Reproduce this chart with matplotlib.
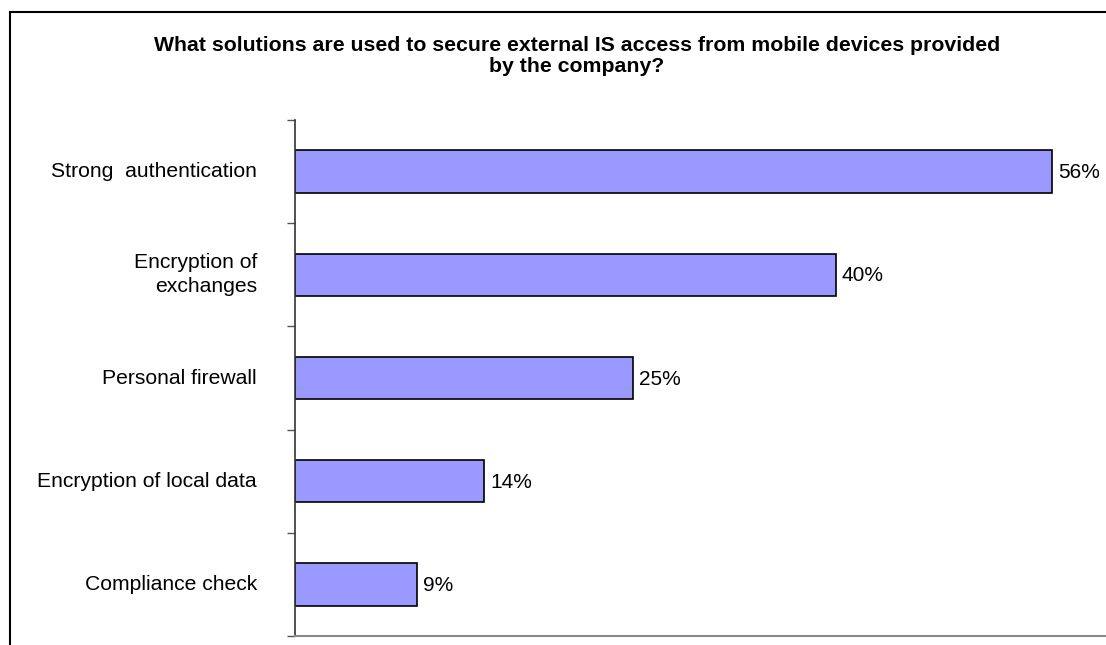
import matplotlib
matplotlib.use("Agg")
import matplotlib.pyplot as plt
from matplotlib.lines import Line2D
import numpy as np

plt.rcParams['font.family'] = ['Liberation Sans', 'DejaVu Sans']

categories = ["Strong  authentication", "Encryption of\nexchanges", "Personal firewall",
              "Encryption of local data", "Compliance check"]
values = [56, 40, 25, 14, 9]
value_labels = ["56%", "40%", "25%", "14%", "9%"]
title = "What solutions are used to secure external IS access from mobile devices provided\nby the company?"

W, H = 1106, 645
fig = plt.figure(figsize=(W / 100, H / 100), dpi=100)
ax = fig.add_axes([295 / W, 1 - 636 / H, (W - 295) / W, (636 - 120) / H])

n = len(categories)
y = np.arange(n)
ax.barh(y, values, height=0.41, color="#9999FF", edgecolor="black", linewidth=1.2)
ax.set_ylim(n - 0.5, -0.5)
ax.set_xlim(0, 60.0)

for yi, v, lab in zip(y, values, value_labels):
    ax.text(v + 0.45, yi + 0.01, lab, va="center", ha="left", fontsize=15)

# category labels, right-aligned to the left of the axis
for yi, cat in zip(y, categories):
    ax.text(-0.047, yi, cat, transform=ax.get_yaxis_transform(), ha="right", va="center",
            multialignment="right", fontsize=15.2, linespacing=1.32)

ax.set_yticks(np.arange(-0.5, n + 0.5, 1.0))
ax.set_yticklabels([])
ax.tick_params(axis="y", direction="out", length=6, width=1, color="#555555")
ax.set_xticks([])
for s in ["top", "right"]:
    ax.spines[s].set_visible(False)
ax.spines["left"].set_color("#333333")
ax.spines["left"].set_linewidth(1.2)
ax.spines["bottom"].set_color("#888888")
ax.spines["bottom"].set_linewidth(1.5)

fig.text(577 / W, 1 - 56 / H, title, ha="center", va="center", fontsize=15.3,
         fontweight="bold", linespacing=1.12)

# outer frame (left and top edges)
fig.add_artist(Line2D([9.5 / W, 9.5 / W], [0, 1 - 12 / H], transform=fig.transFigure,
                      color="black", linewidth=1.5))
fig.add_artist(Line2D([9.5 / W, 1], [1 - 12 / H, 1 - 12 / H], transform=fig.transFigure,
                      color="black", linewidth=1.5))

fig.savefig("out.png", dpi=100, facecolor="white")
